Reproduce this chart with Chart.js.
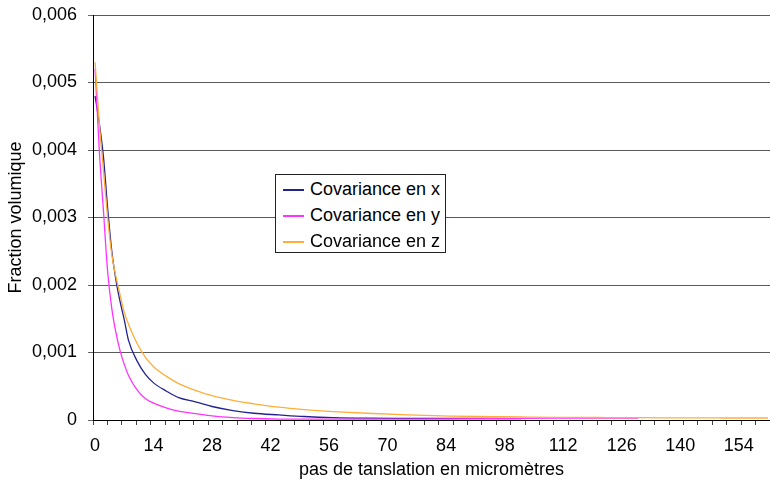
<!DOCTYPE html>
<html>
<head>
<meta charset="utf-8">
<script src="https://cdn.jsdelivr.net/npm/chart.js@4/dist/chart.umd.min.js"></script>
<style>
  html, body { margin: 0; padding: 0; background: #fff; }
  #wrap { position: relative; width: 770px; height: 481px; }
  #c { position: absolute; left: 0; top: 0; }
  #legend {
    position: absolute; left: 275px; top: 174px; width: 171px; height: 79px;
    box-sizing: border-box; border: 1px solid #222; background: #fff;
    font-family: 'Liberation Sans', Arial, sans-serif; font-size: 18px; color: #000;
    padding-top: 1px;
  }
  .item { position: relative; height: 26px; line-height: 26px; }
  .swatch { position: absolute; left: 7px; top: 13px; width: 21px; height: 2px; }
  .lbl { position: absolute; left: 34px; top: 0; white-space: nowrap; }
</style>
</head>
<body>
<div id="wrap">
  <canvas id="c" width="770" height="481"></canvas>
  <div id="legend"></div>
</div>
<script>
// ---- data ----
const X_POS   = [0,1,2,3,4,5,6,7,8,10,12,14,17,20,24,28,33,38,44,50,57,65,75,85,95,102,110,120,130,140,150,161];
const COV_X   = [0.0048,0.0044,0.0039,0.00314,0.0025,0.00207,0.00175,0.00148,0.00118,0.00088,0.00068,0.00055,0.00043,0.00033,0.00027,0.0002,0.00014,0.0001,0.000075,0.000052,0.000035,0.000027,0.000025,0.000024,0.000022,0.00002,null,null,null,null,null,null];
const COV_Y   = [0.0052,0.0040,0.0031,0.0022,0.00165,0.00129,0.00102,0.00082,0.00066,0.00045,0.00032,0.00025,0.00018,0.00013,0.000095,0.00006,0.000035,0.000022,0.000014,0.000012,0.000012,0.000012,0.000013,0.000015,0.00002,0.000025,0.000028,0.00003,0.00003,null,null,null];
const COV_Z   = [0.0053,0.0044,0.0037,0.0030,0.00245,0.00212,0.00185,0.00159,0.00142,0.00114,0.00093,0.00079,0.00065,0.00054,0.00044,0.00036,0.00029,0.00024,0.00019,0.000155,0.000125,0.0001,0.000075,0.000057,0.00005,0.000045,0.00004,0.000037,0.000034,0.000032,0.00003,0.00003];
const SERIES_NAMES = ['Covariance en x','Covariance en y','Covariance en z'];
const X_LABELS = [0,14,28,42,56,70,84,98,112,126,140,154];
const Y_TICKS  = [0,0.001,0.002,0.003,0.004,0.005,0.006];

const X_MIN = -0.5, X_MAX = 161.5, MINOR_COUNT = 47;
const COLORS = ['#23238f','#ff33ff','#ffae3a'];
const FONT = "'Liberation Sans', Arial, sans-serif";

function pts(ys) { return X_POS.map((x,i) => ({x: x, y: ys[i]})); }
const seriesVals = [COV_X, COV_Y, COV_Z];

const datasets = seriesVals.map((ys, i) => ({
  label: SERIES_NAMES[i],
  data: pts(ys),
  borderColor: COLORS[i],
  backgroundColor: COLORS[i],
  borderWidth: 1.3,
  pointRadius: 0,
  fill: false,
  spanGaps: false,
  cubicInterpolationMode: 'monotone',
  order: 3 - i
}));

const isLabelTick = v => X_LABELS.some(l => Math.abs(l - v) < 1e-6);

new Chart(document.getElementById('c'), {
  type: 'line',
  data: { datasets },
  options: {
    responsive: false,
    animation: false,
    events: [],
    layout: { padding: { top: 15, right: 0, bottom: 0, left: 0 } },
    plugins: { legend: { display: false }, tooltip: { enabled: false } },
    scales: {
      x: {
        type: 'linear',
        min: X_MIN, max: X_MAX,
        afterBuildTicks: s => {
          const t = [];
          const step = (X_MAX - X_MIN) / MINOR_COUNT;
          for (let k = 0; k <= MINOR_COUNT; k++) t.push({ value: X_MIN + k * step });
          X_LABELS.forEach(v => t.push({ value: v }));
          t.sort((a, b) => a.value - b.value);
          s.ticks = t;
        },
        afterFit: s => { s.height = 61; s.paddingLeft = 0; s.paddingRight = 0; },
        ticks: {
          autoSkip: false, maxRotation: 0, minRotation: 0,
          padding: 10, color: '#000',
          font: { family: FONT, size: 18 },
          callback: v => isLabelTick(v) ? String(Math.round(v)) : ''
        },
        grid: {
          display: true, drawOnChartArea: false, drawTicks: true, tickLength: 5,
          tickColor: ctx => (ctx.tick && isLabelTick(ctx.tick.value)) ? 'rgba(0,0,0,0)' : '#444'
        },
        border: { display: true, color: '#000', width: 1 },
        title: {
          display: true, text: 'pas de tanslation en micromètres', color: '#000',
          font: { family: FONT, size: 18 }, padding: { top: 0, bottom: 0 }
        }
      },
      y: {
        type: 'linear',
        min: 0, max: 0.006,
        afterBuildTicks: s => { s.ticks = Y_TICKS.map(v => ({ value: v })); },
        afterFit: s => { s.width = 93; s.paddingTop = 0; s.paddingBottom = 0; },
        ticks: {
          padding: 11, color: '#000',
          font: { family: FONT, size: 18 },
          callback: v => v === 0 ? '0' : v.toFixed(3).replace('.', ',')
        },
        grid: { color: '#5a5a5a', lineWidth: 1, tickLength: 5, tickColor: '#666' },
        border: { display: true, color: '#000', width: 1 },
        title: {
          display: true, text: 'Fraction volumique', color: '#000',
          font: { family: FONT, size: 18 }, padding: { top: 5, bottom: 0 }
        }
      }
    }
  }
});

// HTML legend built from the series names/colours
const lg = document.getElementById('legend');
SERIES_NAMES.forEach((name, i) => {
  const it = document.createElement('div'); it.className = 'item';
  const sw = document.createElement('div'); sw.className = 'swatch'; sw.style.background = COLORS[i];
  const tx = document.createElement('span'); tx.className = 'lbl'; tx.textContent = name;
  it.appendChild(sw); it.appendChild(tx); lg.appendChild(it);
});
</script>
</body>
</html>
